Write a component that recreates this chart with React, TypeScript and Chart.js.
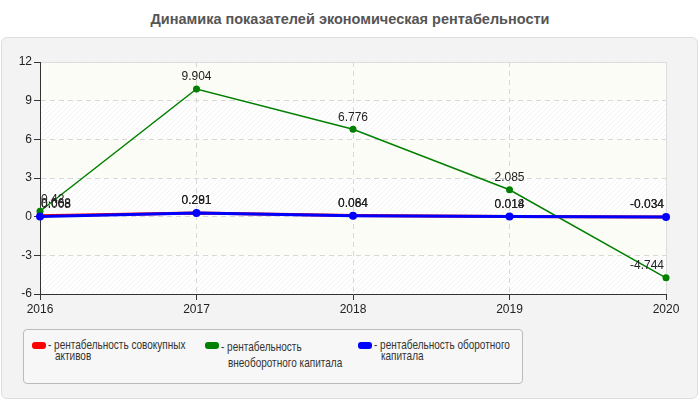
import { useEffect, useRef } from "react";
import { Chart, registerables, Plugin } from "chart.js";

Chart.register(...registerables);

const years = ["2016", "2017", "2018", "2019", "2020"];
const assetsReturn = [0.068, 0.291, 0.084, 0.018, -0.034];
const fixedCapitalReturn = [0.42, 9.904, 6.776, 2.085, -4.744];
const workingCapitalReturn = [0.008, 0.281, 0.064, 0.014, -0.034];

const seriesNames = [
  "рентабельность совокупных активов",
  "рентабельность внеоборотного капитала",
  "рентабельность оборотного капитала",
];
// how many words go on the first legend line
const legendWraps = [2, 1, 2];
const seriesColors = ["#ff0000", "#008000", "#0000ff"];

const yMin = -6;
const yMax = 12;
const yStep = 3;

const FONT = "'Liberation Sans', Arial, sans-serif";

function makeHatch(): CanvasPattern | string {
  const c = document.createElement("canvas");
  c.width = 5;
  c.height = 5;
  const g = c.getContext("2d");
  if (!g) return "#fff";
  g.fillStyle = "#ffffff";
  g.fillRect(0, 0, 5, 5);
  g.strokeStyle = "rgba(0,0,0,0.05)";
  g.lineWidth = 1;
  g.beginPath();
  g.moveTo(0, 5);
  g.lineTo(5, 0);
  g.moveTo(-1, 1);
  g.lineTo(1, -1);
  g.moveTo(4, 6);
  g.lineTo(6, 4);
  g.stroke();
  return g.createPattern(c, "repeat") || "#fff";
}

// bands + frame of the plot area
const backgroundPlugin: Plugin = {
  id: "bands",
  beforeDraw(chart) {
    const { ctx, chartArea: a, scales } = chart;
    const y = scales.y;
    ctx.save();
    ctx.fillStyle = makeHatch();
    ctx.fillRect(a.left, a.top, a.right - a.left, a.bottom - a.top);
    let i = 0;
    for (let v = yMax; v > yMin; v -= yStep) {
      if (i % 2 === 0) {
        const t = y.getPixelForValue(v);
        const b = y.getPixelForValue(v - yStep);
        ctx.fillStyle = "rgba(252,252,245,0.8)";
        ctx.fillRect(a.left, t, a.right - a.left, b - t);
      }
      i++;
    }
    ctx.strokeStyle = "#dddddd";
    ctx.lineWidth = 1;
    ctx.beginPath();
    ctx.moveTo(a.left, a.top + 0.5);
    ctx.lineTo(a.right + 0.5, a.top + 0.5);
    ctx.lineTo(a.right + 0.5, a.bottom);
    ctx.stroke();
    ctx.restore();
  },
};

const valueLabels: Plugin = {
  id: "valueLabels",
  afterDatasetsDraw(chart) {
    const { ctx, chartArea: a } = chart;
    ctx.save();
    ctx.font = `12px ${FONT}`;
    ctx.fillStyle = "#222";
    ctx.textAlign = "center";
    ctx.textBaseline = "bottom";
    chart.data.datasets.forEach((ds, di) => {
      const meta = chart.getDatasetMeta(di);
      meta.data.forEach((pt, i) => {
        const text = String(ds.data[i]);
        const w = ctx.measureText(text).width;
        let x = pt.x;
        x = Math.max(x, a.left + w / 2 + 1);
        x = Math.min(x, a.right - w / 2 - 2);
        ctx.fillText(text, x, pt.y - 6);
      });
    });
    ctx.restore();
  },
};

function ChartCanvas() {
  const canvasRef = useRef<HTMLCanvasElement>(null);
  const chartRef = useRef<Chart | null>(null);

  useEffect(() => {
    if (!canvasRef.current) return;
    if (chartRef.current) chartRef.current.destroy();

    chartRef.current = new Chart(canvasRef.current, {
      type: "line",
      data: {
        labels: years,
        datasets: [
          {
            label: seriesNames[0],
            data: assetsReturn,
            borderColor: seriesColors[0],
            backgroundColor: seriesColors[0],
            borderWidth: 3,
            pointRadius: 3,
            pointBorderWidth: 0,
            order: 2,
          },
          {
            label: seriesNames[1],
            data: fixedCapitalReturn,
            borderColor: seriesColors[1],
            backgroundColor: seriesColors[1],
            borderWidth: 1.5,
            pointRadius: 3.5,
            pointBorderWidth: 0,
            order: 1,
          },
          {
            label: seriesNames[2],
            data: workingCapitalReturn,
            borderColor: seriesColors[2],
            backgroundColor: seriesColors[2],
            borderWidth: 3,
            pointRadius: 4,
            pointBorderWidth: 0,
            order: 0,
          },
        ],
      },
      options: {
        animation: false,
        responsive: false,
        maintainAspectRatio: false,
        layout: { padding: { top: 62, right: 34, left: 0, bottom: 0 } },
        plugins: {
          legend: { display: false },
          tooltip: { enabled: false },
        },
        scales: {
          x: {
            offset: false,
            afterFit: (s) => {
              s.height = 26;
            },
            grid: {
              color: (c) =>
                c.index === 0 || c.index === years.length - 1 ? "transparent" : "#d8d8d8",
              tickColor: "#333",
              tickLength: 6,
            },
            border: { color: "#333", width: 1, dash: [5, 4] },
            ticks: { color: "#222", font: { family: FONT, size: 12 }, padding: 2 },
          },
          y: {
            min: yMin,
            max: yMax,
            afterFit: (s) => {
              s.width = 40;
            },
            grid: {
              color: (c) =>
                c.tick && (c.tick.value === yMin || c.tick.value === yMax)
                  ? "transparent"
                  : "#d8d8d8",
              tickColor: "#333",
              tickLength: 6,
            },
            border: { color: "#333", width: 1, dash: [5, 4] },
            ticks: {
              stepSize: yStep,
              color: "#222",
              font: { family: FONT, size: 12 },
              padding: 2,
            },
          },
        },
      },
      plugins: [backgroundPlugin, valueLabels],
    });

    return () => {
      chartRef.current?.destroy();
      chartRef.current = null;
    };
  }, []);

  return (
    <canvas
      ref={canvasRef}
      width={700}
      height={320}
      style={{ position: "absolute", left: 0, top: 0, width: 700, height: 320 }}
    />
  );
}

const legendItems = [
  { left: 32, top: 342, lineHeight: 11 },
  { left: 205, top: 342, lineHeight: 16 },
  { left: 358, top: 342, lineHeight: 11 },
];

export default function App() {
  return (
    <div
      style={{
        position: "fixed",
        left: 0,
        top: 0,
        width: 700,
        height: 400,
        background: "#fff",
        fontFamily: FONT,
        overflow: "hidden",
      }}
    >
      <div
        style={{
          position: "absolute",
          left: 0,
          top: 11,
          width: 700,
          textAlign: "center",
          fontWeight: "bold",
          fontSize: 14.5,
          color: "#555",
        }}
      >
        Динамика показателей экономическая рентабельности
      </div>
      <div
        style={{
          position: "absolute",
          left: 1,
          top: 37,
          width: 695,
          height: 360,
          background: "#f3f3f3",
          border: "1px solid #dedede",
          borderRadius: 6,
        }}
      />
      <ChartCanvas />
      <div
        style={{
          position: "absolute",
          left: 23,
          top: 329,
          width: 498,
          height: 53,
          border: "1px solid #bbb",
          borderRadius: 4,
          background: "#f7f7f7",
        }}
      />
      {legendItems.map((it, i) => {
        const words = seriesNames[i].split(" ");
        const first = words.slice(0, legendWraps[i]).join(" ");
        const rest = words.slice(legendWraps[i]).join(" ");
        return (
          <div
            key={i}
            style={{
              position: "absolute",
              left: it.left,
              top: it.top,
              whiteSpace: "nowrap",
              fontSize: 13,
              color: "#333",
            }}
          >
            <span
              style={{
                position: "absolute",
                left: 0,
                top: 0,
                width: 14,
                height: 7,
                background: seriesColors[i],
                borderRadius: 3,
              }}
            />
            <div
              style={{
                position: "absolute",
                left: 16,
                top: -3,
                transform: "scaleX(0.77)",
                transformOrigin: "0 0",
                lineHeight: it.lineHeight + "px",
              }}
            >
              - {first}
              <br />
              <span style={{ paddingLeft: 9 }}>{rest}</span>
            </div>
          </div>
        );
      })}
    </div>
  );
}
